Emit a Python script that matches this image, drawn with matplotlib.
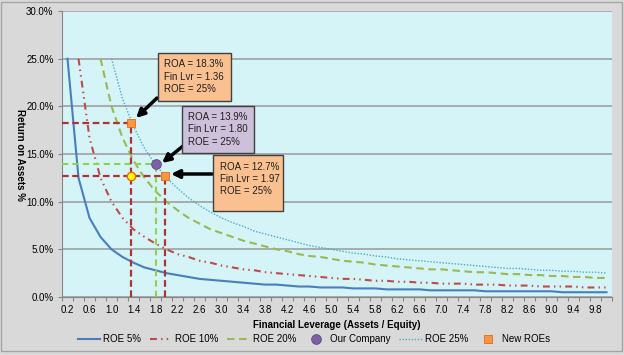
import numpy as np
import matplotlib.pyplot as plt
from matplotlib import font_manager
from matplotlib.patches import Rectangle

# pick a narrow Calibri-like font if there is one
names = {f.name for f in font_manager.fontManager.ttflist}
font = 'Liberation Sans Narrow' if 'Liberation Sans Narrow' in names else 'Liberation Sans'
plt.rcParams['font.family'] = [font, 'DejaVu Sans']
plt.rcParams['font.size'] = 7

# Data (ROA in %)
leverage = [0.2, 0.4, 0.6, 0.8, 1.0, 1.2, 1.4, 1.6, 1.8, 2.0,
            2.2, 2.4, 2.6, 2.8, 3.0, 3.2, 3.4, 3.6, 3.8, 4.0,
            4.2, 4.4, 4.6, 4.8, 5.0, 5.2, 5.4, 5.6, 5.8, 6.0,
            6.2, 6.4, 6.6, 6.8, 7.0, 7.2, 7.4, 7.6, 7.8, 8.0,
            8.2, 8.4, 8.6, 8.8, 9.0, 9.2, 9.4, 9.6, 9.8, 10.0]
nan = np.nan
roe5 = [25.0, 12.5, 8.3, 6.3, 5.0, 4.2, 3.6, 3.1, 2.8, 2.5,
        2.3, 2.1, 1.9, 1.8, 1.7, 1.6, 1.5, 1.4, 1.3, 1.3,
        1.2, 1.1, 1.1, 1.0, 1.0, 1.0, 0.9, 0.9, 0.9, 0.8,
        0.8, 0.8, 0.8, 0.7, 0.7, 0.7, 0.7, 0.7, 0.6, 0.6,
        0.6, 0.6, 0.6, 0.6, 0.6, 0.5, 0.5, 0.5, 0.5, 0.5]
roe10 = [nan, 25.0, 16.7, 12.5, 10.0, 8.3, 7.1, 6.3, 5.6, 5.0,
         4.5, 4.2, 3.8, 3.6, 3.3, 3.1, 2.9, 2.8, 2.6, 2.5,
         2.4, 2.3, 2.2, 2.1, 2.0, 1.9, 1.9, 1.8, 1.7, 1.7,
         1.6, 1.6, 1.5, 1.5, 1.4, 1.4, 1.4, 1.3, 1.3, 1.3,
         1.2, 1.2, 1.2, 1.1, 1.1, 1.1, 1.1, 1.0, 1.0, 1.0]
roe20 = [nan, nan, nan, 25.0, 20.0, 16.7, 14.3, 12.5, 11.1, 10.0,
         9.1, 8.3, 7.7, 7.1, 6.7, 6.3, 5.9, 5.6, 5.3, 5.0,
         4.8, 4.5, 4.3, 4.2, 4.0, 3.8, 3.7, 3.6, 3.4, 3.3,
         3.2, 3.1, 3.0, 2.9, 2.9, 2.8, 2.7, 2.6, 2.6, 2.5,
         2.4, 2.4, 2.3, 2.3, 2.2, 2.2, 2.1, 2.1, 2.0, 2.0]
roe25 = [nan, nan, nan, nan, 25.0, 20.8, 17.9, 15.6, 13.9, 12.5,
         11.4, 10.4, 9.6, 8.9, 8.3, 7.8, 7.4, 6.9, 6.6, 6.3,
         6.0, 5.7, 5.4, 5.2, 5.0, 4.8, 4.6, 4.5, 4.3, 4.2,
         4.0, 3.9, 3.8, 3.7, 3.6, 3.5, 3.4, 3.3, 3.2, 3.1,
         3.0, 3.0, 2.9, 2.8, 2.8, 2.7, 2.7, 2.6, 2.6, 2.5]

our_lvr, our_roa = 1.80, 13.9
new_lvr = [1.36, 1.97]
new_roa = [18.3, 12.7]
cross_lvr, cross_roa = 1.36, 12.7

y_ticks = [0, 5, 10, 15, 20, 25, 30]

W, H = 624, 355
fig = plt.figure(figsize=(W / 100, H / 100), dpi=100, facecolor='#D9D9D9')


def fx(px):
    return px / W


def fy(py):
    return 1 - py / H


def pos(lvr):
    # lever value -> category position on the axis
    return (lvr - leverage[0]) / (leverage[1] - leverage[0])


ax = fig.add_axes([fx(62), fy(297), fx(612) - fx(62), fy(11) - fy(297)])
ax.set_facecolor('#D5F4F7')
x = np.arange(len(leverage))

l5, = ax.plot(x, roe5, color='#4A7EBB', lw=1.5, label='ROE 5%')
l10, = ax.plot(x, roe10, color='#BE4B48', lw=1.5, dashes=[3.3, 2, 0.7, 2, 0.7, 2], label='ROE 10%')
l20, = ax.plot(x, roe20, color='#98B954', lw=1.5, dashes=[3.6, 2.2], label='ROE 20%')
l25, = ax.plot(x, roe25, color='#4BACC6', lw=1.0, dashes=[1, 1.2], label='ROE 25%')

# guide lines
red = '#B03333'
grn = '#92D050'
ax.hlines(our_roa, -0.5, pos(our_lvr), color=grn, lw=1.5, linestyles=(0, (3, 2)), zorder=3)
ax.vlines(pos(our_lvr), 0, our_roa, color=grn, lw=1.5, linestyles=(0, (3, 2)), zorder=3)
for lv, ro in zip(new_lvr, new_roa):
    ax.hlines(ro, -0.5, pos(lv), color=red, lw=1.6, linestyles=(0, (3, 1.6)), zorder=3)
    ax.vlines(pos(lv), 0, ro, color=red, lw=1.6, linestyles=(0, (3, 1.6)), zorder=3)

ax.plot(pos(cross_lvr), cross_roa, 'o', ms=6, mfc='#FFFF00', mec='#E46C0A', mew=1, zorder=5)
mco, = ax.plot(pos(our_lvr), our_roa, 'o', ms=7, color='#7F60A8', mec='#5F4880', mew=0.6,
               zorder=5, label='Our Company')
mnew, = ax.plot([pos(v) for v in new_lvr], new_roa, 's', ms=6, color='#F79646', mec='#E46C0A',
                mew=0.6, zorder=5, label='New ROEs')

ax.set_xlim(-0.5, len(leverage) - 0.5)
ax.set_ylim(0, 30)
ax.set_yticks(y_ticks)
ax.set_yticklabels(['%.1f%%' % v for v in y_ticks])
ax.set_xticks(np.arange(-0.5, len(leverage), 1))
ax.set_xticklabels([])
ax.set_xticks(x[::2], minor=True)
ax.set_xticklabels(['%.1f' % v for v in leverage[::2]], minor=True)
ax.tick_params(axis='x', which='major', length=3, color='#868686', direction='out')
ax.tick_params(axis='x', which='minor', length=0, pad=6)
ax.tick_params(axis='y', length=3, color='#868686', pad=3)
ax.yaxis.grid(True, color='#A6A6A6', lw=1.3)
ax.set_axisbelow(True)
for s in ['top', 'right']:
    ax.spines[s].set_visible(False)
for s in ['left', 'bottom']:
    ax.spines[s].set_color('#868686')

fig.text(fx(20), fy(155), 'Return on Assets %', rotation=270, fontweight='bold',
         ha='center', va='center')
fig.text(fx(337), fy(325), 'Financial Leverage (Assets / Equity)', fontweight='bold',
         ha='center', va='center')

fig.legend(handles=[l5, l10, l20, mco, l25, mnew], loc='center', bbox_to_anchor=(fx(314), fy(339)),
           ncol=6, frameon=False, handlelength=2.3, handletextpad=0.3, columnspacing=0.9,
           fontsize=7)

# callout boxes
boxes = [
    ((158, 53, 231, 101), '#FAC090', (164, [64, 77, 89]), ['ROA = 18.3%', 'Fin Lvr = 1.36', 'ROE = 25%'],
     (157, 98), (136, 118)),
    ((182, 106, 254, 153), '#CCC0DA', (188, [117, 129, 142]), ['ROA = 13.9%', 'Fin Lvr = 1.80', 'ROE = 25%'],
     (183, 146), (162, 163)),
    ((213, 155, 283, 211), '#FAC090', (220, [167, 179, 191]), ['ROA = 12.7%', 'Fin Lvr = 1.97', 'ROE = 25%'],
     (212, 174), (171, 174)),
]
for (x0, y0, x1, y1), fc, (tx, tys), lines, tail, tip in boxes:
    fig.add_artist(Rectangle((fx(x0), fy(y1)), fx(x1) - fx(x0), fy(y0) - fy(y1),
                             transform=fig.transFigure, fc=fc, ec='#404040', lw=1, zorder=10))
    for ty, t in zip(tys, lines):
        fig.text(fx(tx), fy(ty), t, ha='left', va='center', fontsize=7, color='#202020', zorder=11)
    ax.annotate('', xy=(fx(tip[0]), fy(tip[1])), xytext=(fx(tail[0]), fy(tail[1])),
                xycoords='figure fraction', textcoords='figure fraction',
                arrowprops=dict(arrowstyle='-|>', color='black', lw=2.5, mutation_scale=12,
                                shrinkA=0, shrinkB=0), zorder=12)

# chart border
fig.add_artist(Rectangle((0.002, 0.01), 0.994, 0.985, transform=fig.transFigure,
                         fill=False, ec='#A6A6A6', lw=1))

fig.savefig('out.png', dpi=100, facecolor=fig.get_facecolor())
